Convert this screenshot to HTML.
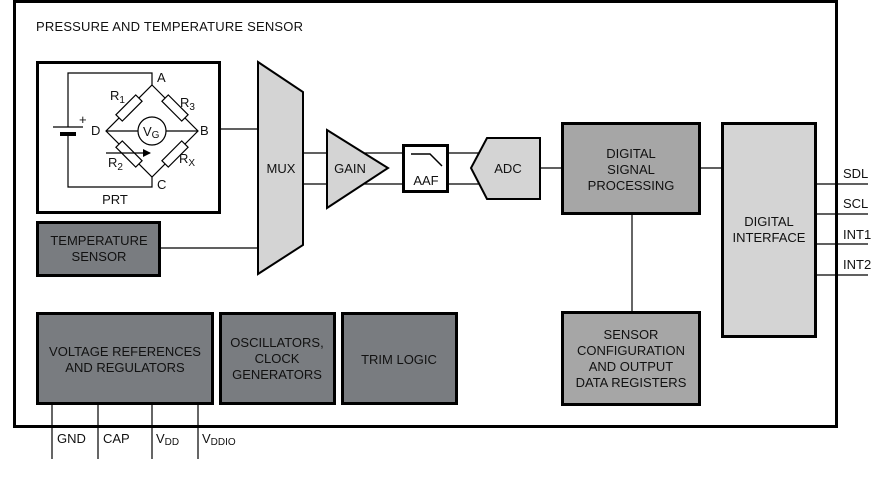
<!DOCTYPE html>
<html><head><style>
body{margin:0;background:#fff;}
svg{display:block;font-family:"Liberation Sans",Arial,sans-serif;}
</style></head><body>
<svg width="878" height="479" viewBox="0 0 878 479" xmlns="http://www.w3.org/2000/svg">
<defs><marker id="ar" markerWidth="8" markerHeight="8" refX="7" refY="4" orient="auto" markerUnits="userSpaceOnUse"><path d="M0,0 L8,4 L0,8 z" fill="#000"/></marker></defs>
<g stroke="#000" stroke-width="1.2" fill="none">
<rect x="14.5" y="1.5" width="822" height="425" stroke-width="3"/>
<rect x="37.5" y="62.5" width="182" height="150" stroke-width="3"/>
<polyline points="152,85 152,73 68,73 68,127"/>
<polyline points="68,134 68,187 152,187 152,177"/>
<line x1="53" y1="127" x2="83" y2="127"/>
<line x1="60" y1="134" x2="76" y2="134" stroke-width="4"/>
<polygon points="152,85 198,131 152,177 106,131"/>
<line x1="106" y1="131" x2="138" y2="131"/>
<line x1="166" y1="131" x2="198" y2="131"/>
<circle cx="152" cy="131" r="14" fill="#fff"/>
<g fill="#fff">
<rect x="-14" y="-4.5" width="28" height="9" transform="translate(129,108) rotate(-45)"/>
<rect x="-14" y="-4.5" width="28" height="9" transform="translate(175,108) rotate(45)"/>
<rect x="-14" y="-4.5" width="28" height="9" transform="translate(129,154) rotate(45)"/>
<rect x="-14" y="-4.5" width="28" height="9" transform="translate(175,154) rotate(-45)"/>
</g>
<line x1="106" y1="153" x2="150" y2="153" marker-end="url(#ar)"/>
<line x1="220" y1="129" x2="258" y2="129"/>
<line x1="160" y1="248" x2="258" y2="248"/>
<line x1="303" y1="153" x2="403" y2="153"/>
<line x1="303" y1="184" x2="403" y2="184"/>
<line x1="448" y1="153" x2="480" y2="153"/>
<line x1="448" y1="184" x2="480" y2="184"/>
<line x1="540" y1="168" x2="562" y2="168"/>
<line x1="700" y1="168" x2="722" y2="168"/>
<line x1="632" y1="214" x2="632" y2="312"/>
<line x1="816" y1="184" x2="868" y2="184"/>
<line x1="816" y1="214" x2="868" y2="214"/>
<line x1="816" y1="244" x2="868" y2="244"/>
<line x1="816" y1="275" x2="868" y2="275"/>
<line x1="52" y1="404" x2="52" y2="459"/>
<line x1="98" y1="404" x2="98" y2="459"/>
<line x1="152" y1="404" x2="152" y2="459"/>
<line x1="198" y1="404" x2="198" y2="459"/>
</g>
<g stroke="#000" stroke-width="2">
<polygon points="258,62 303,92 303,245 258,274" fill="#d4d4d4"/>
<polygon points="327,130 388,168 327,208" fill="#d4d4d4"/>
<polygon points="487,138 540,138 540,199 487,199 471,168" fill="#d4d4d4"/>
<polyline points="411,154 430,154 442,166" fill="none" stroke-width="1.5"/>
</g>
<g stroke="#000" stroke-width="3">
<rect x="403.5" y="145.5" width="44" height="46" fill="none"/>
<rect x="37.5" y="222.5" width="122" height="53" fill="#797c80"/>
<rect x="37.5" y="313.5" width="175" height="90" fill="#797c80"/>
<rect x="220.5" y="313.5" width="114" height="90" fill="#797c80"/>
<rect x="342.5" y="313.5" width="114" height="90" fill="#797c80"/>
<rect x="562.5" y="123.5" width="137" height="90" fill="#a6a6a6"/>
<rect x="562.5" y="312.5" width="137" height="92" fill="#a6a6a6"/>
<rect x="722.5" y="123.5" width="93" height="213" fill="#d4d4d4"/>
</g>
<g font-size="13" fill="#111">
<text x="36" y="31" textLength="267">PRESSURE AND TEMPERATURE SENSOR</text>
<text x="157" y="82">A</text>
<text x="200" y="135">B</text>
<text x="157" y="189">C</text>
<text x="91" y="135">D</text>
<text x="79" y="124">+</text>
<text x="110" y="100">R<tspan font-size="10" dy="3">1</tspan></text>
<text x="180" y="107">R<tspan font-size="10" dy="3">3</tspan></text>
<text x="108" y="167">R<tspan font-size="10" dy="3">2</tspan></text>
<text x="179" y="163">R<tspan font-size="10" dy="3">X</tspan></text>
<text x="143" y="136">V<tspan font-size="10" dy="2">G</tspan></text>
<text x="115" y="204" text-anchor="middle">PRT</text>
<text x="281" y="173" text-anchor="middle">MUX</text>
<text x="350" y="173" text-anchor="middle">GAIN</text>
<text x="426" y="185" text-anchor="middle">AAF</text>
<text x="508" y="173" text-anchor="middle">ADC</text>
<g text-anchor="middle">
<text x="99" y="245">TEMPERATURE</text><text x="99" y="261">SENSOR</text>
<text x="125" y="356">VOLTAGE REFERENCES</text><text x="125" y="372">AND REGULATORS</text>
<text x="277" y="347">OSCILLATORS,</text><text x="277" y="363">CLOCK</text><text x="277" y="379">GENERATORS</text>
<text x="399" y="364">TRIM LOGIC</text>
<text x="631" y="158">DIGITAL</text><text x="631" y="174">SIGNAL</text><text x="631" y="190">PROCESSING</text>
<text x="631" y="339">SENSOR</text><text x="631" y="355">CONFIGURATION</text><text x="631" y="371">AND OUTPUT</text><text x="631" y="387">DATA REGISTERS</text>
<text x="769" y="226">DIGITAL</text><text x="769" y="242">INTERFACE</text>
</g>
<text x="843" y="178">SDL</text>
<text x="843" y="208">SCL</text>
<text x="843" y="239">INT1</text>
<text x="843" y="269">INT2</text>
<text x="57" y="443">GND</text>
<text x="103" y="443">CAP</text>
<text x="156" y="443">V<tspan font-size="10" dy="2">DD</tspan></text>
<text x="202" y="443">V<tspan font-size="10" dy="2">DDIO</tspan></text>
</g>
</svg>
</body></html>
